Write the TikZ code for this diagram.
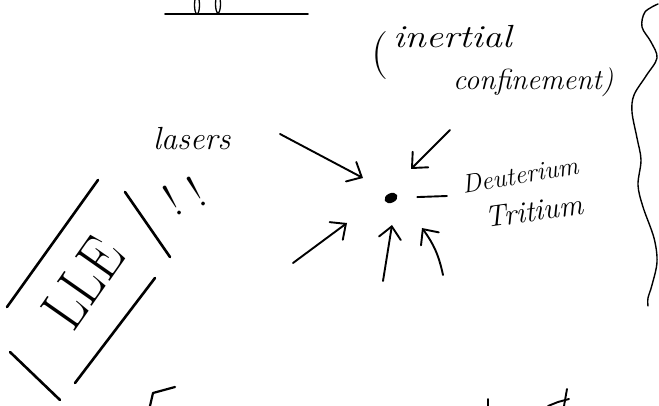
\documentclass[tikz,border=0pt]{standalone}
\usetikzlibrary{arrows.meta,shapes.geometric}
\begin{document}
\begin{tikzpicture}[x=1pt,y=-1pt,
  ink/.style={line width=1.9pt, line cap=round, line join=round},
  laser/.style={ink, -{Straight Barb[length=12pt,width=22pt,line cap=round]}},
  hand/.style={inner sep=0pt, font=\itshape}]
\fill[white] (0,0) rectangle (659,406);
\path[use as bounding box] (0,0) rectangle (659,406);
\clip (0,0) rectangle (659,406);

% fragment of the heading above (cut off)
\draw[ink] (165,14) -- (308,14);
\draw[ink, line width=1.3pt] (197,5) ellipse [x radius=2.5pt, y radius=9pt];
\draw[ink, line width=1.3pt] (218,4) ellipse [x radius=2.5pt, y radius=9pt];

% (inertial confinement)
\node[inner sep=0pt, font=\fontsize{48}{48}\selectfont] (lpar) at (380,56) {(};
\node[hand, anchor=base west, font=\itshape\fontsize{32}{32}\selectfont] (inertial) at (393,48) {\scalebox{1.2}[1]{inertial}};
\node[hand, anchor=base west, font=\itshape\fontsize{29}{29}\selectfont] (confinement) at (453,90) {confinement)};

% brace on the right
\draw[ink, line width=1.4pt] plot[smooth, tension=0.55] coordinates {(658,4) (645,12) (642,27) (651,42) (657,58) (646,76) (634,95) (632,112) (637,138) (641,160) (638,185) (643,207) (654,238) (657,262) (652,285) (648,298) (648,306)};

% lasers
\node[hand, anchor=base west, font=\itshape\fontsize{32}{32}\selectfont] (lasers) at (153,150) {lasers};

% pellet and its label
\node[draw, fill=black, ellipse, line width=1.5pt, minimum width=12pt, minimum height=8pt, inner sep=0pt, rotate=25] (pellet) at (391,198) {};
\node[hand, rotate=10, font=\itshape\fontsize{26}{26}\selectfont] (deut) at (520,175) {Deuterium};
\node[hand, rotate=8, font=\itshape\fontsize{30}{30}\selectfont] (trit) at (534,211) {Tritium};
\coordinate (dtl) at (447,196);
\draw[ink, shorten <=20pt] (pellet) -- (dtl);

% laser beams
\coordinate (s1) at (280,134); \coordinate (e1) at (363,178);
\coordinate (s2) at (450,130); \coordinate (e2) at (411,169);
\coordinate (s3) at (293,263); \coordinate (e3) at (347,223);
\coordinate (s4) at (383,281); \coordinate (e4) at (392,225);
\coordinate (s5) at (443,275); \coordinate (e5) at (422,228);
\draw[laser] (s1) -- (e1);
\draw[laser] (s2) -- (e2);
\draw[laser] (s3) -- (e3);
\draw[laser] (s4) -- (e4);
\draw[laser] (s5) to[bend right=12] (e5);

% LLE box
\node[rotate=55, inner sep=0pt, font=\fontsize{62}{62}\selectfont] (lle) at (83,283) {\scalebox{0.85}[1]{LLE}};
\draw[ink, line width=2.6pt] (98,180) -- (7,307);
\draw[ink, line width=2.6pt] (155,278) -- (75,383);
\draw[ink, line width=2.6pt] (125,192) -- (170,257);
\draw[ink, line width=2.6pt] (10,352) -- (60,400);
\node[rotate=30, inner sep=0pt, font=\fontsize{46}{46}\selectfont] (bang1) at (172,200) {!};
\node[rotate=30, inner sep=0pt, font=\fontsize{46}{46}\selectfont] (bang2) at (196,191) {!};

% fragments of the next line (cut off)
\draw[ink, line width=2.2pt] (175,387) -- (153,393) -- (150,406);
\draw[ink, line width=1.6pt] (488,399) -- (488,406);
\draw[ink] (567,389) -- (564,406);
\draw[ink] (548,406) -- (558,402) -- (569,399);
\end{tikzpicture}
\end{document}
